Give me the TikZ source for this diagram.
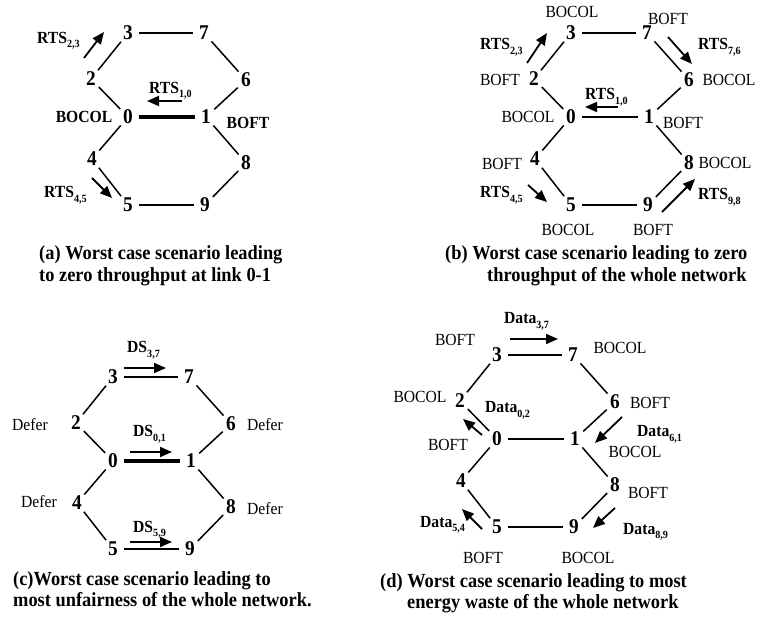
\documentclass[tikz,border=0pt]{standalone}
\usepackage{fontspec}
\setmainfont[FakeStretch=0.92]{Liberation Serif}
\usetikzlibrary{arrows.meta}
\newcommand\sbs[1]{\raisebox{-4.5pt}{\fontsize{11}{11}\selectfont #1}}
\newcommand\ringgraph[1]{%
  \node[nd] (3) at (128,33) {3};
  \node[nd] (7) at (204,33) {7};
  \node[nd] (2) at (91,79) {2};
  \node[nd] (6) at (246,80) {6};
  \node[nd] (0) at (128,117) {0};
  \node[nd] (1) at (206,117) {1};
  \node[nd] (4) at (92,159) {4};
  \node[nd] (8) at (246,163) {8};
  \node[nd] (5) at (128,205) {5};
  \node[nd] (9) at (205,205) {9};
  \draw[edge] (3) -- (7);
  \draw[edge] (7) -- (6);
  \draw[edge] (6) -- (1);
  \draw[edge] (1) -- (8);
  \draw[edge] (8) -- (9);
  \draw[edge] (9) -- (5);
  \draw[edge] (5) -- (4);
  \draw[edge] (4) -- (0);
  \draw[edge] (0) -- (2);
  \draw[edge] (2) -- (3);
  \draw[#1] (0) -- (1);
}
\begin{document}
\begin{tikzpicture}[x=1pt,y=-1pt,
  nd/.style={circle, inner sep=0pt, minimum size=22pt, font=\fontsize{21}{21}\selectfont\bfseries},
  edge/.style={line width=1.5pt},
  thickedge/.style={line width=4.5pt},
  arr/.style={line width=1.8pt, -{Triangle[length=12pt,width=10pt]}},
  bl/.style={font=\fontsize{17}{17}\selectfont\bfseries, inner sep=0pt},
  blb/.style={bl, anchor=base west},
  nl/.style={font=\fontsize{17}{17}\selectfont, inner sep=0pt},
  captxt/.style={font=\fontsize{20}{20}\selectfont\bfseries, inner sep=0pt, anchor=base west}]
\path[use as bounding box] (0,0) rectangle (758,617);

% ---------- (a) ----------
\begin{scope}[name prefix=a-]
  \ringgraph{thickedge}
\end{scope}
\node[bl] (a-bocol) at (84,117) {BOCOL};
\node[bl] (a-boft) at (248,123) {BOFT};
\node[blb] (a-t10) at (149,93.5) {RTS\sbs{1,0}};
\coordinate (a-p1) at (182,101); \coordinate (a-q1) at (147,101);
\draw[arr] (a-p1) -- (a-q1);
\node[blb] (a-t23) at (37,43.5) {RTS\sbs{2,3}};
\coordinate (a-p2) at (84,58); \coordinate (a-q2) at (104,32);
\draw[arr] (a-p2) -- (a-q2);
\node[blb] (a-t45) at (44,198) {RTS\sbs{4,5}};
\coordinate (a-p3) at (92,178); \coordinate (a-q3) at (112,198);
\draw[arr] (a-p3) -- (a-q3);
\node[captxt] (capa1) at (39,260) {(a) Worst case scenario leading};
\node[captxt] (capa2) at (39,282) {to zero throughput at link 0-1};

% ---------- (b) ----------
\begin{scope}[shift={(443,0)}, name prefix=b-]
  \ringgraph{edge}
\end{scope}
\node[nl] (b-l3) at (572,12) {BOCOL};
\node[nl] (b-l7) at (668,19) {BOFT};
\node[blb] (b-t76) at (698,50) {RTS\sbs{7,6}};
\coordinate (b-p1) at (668,37); \coordinate (b-q1) at (692,64);
\draw[arr] (b-p1) -- (b-q1);
\node[nl] (b-l6) at (729,80) {BOCOL};
\node[nl] (b-l2) at (500,80) {BOFT};
\node[blb] (b-t23) at (480,50) {RTS\sbs{2,3}};
\coordinate (b-p2) at (527,63); \coordinate (b-q2) at (547,33);
\draw[arr] (b-p2) -- (b-q2);
\node[blb] (b-t10) at (585,100) {RTS\sbs{1,0}};
\coordinate (b-p3) at (618,107); \coordinate (b-q3) at (585,107);
\draw[arr] (b-p3) -- (b-q3);
\node[nl] (b-l0) at (528,117) {BOCOL};
\node[nl] (b-l1) at (683,123) {BOFT};
\node[nl] (b-l4) at (502,164) {BOFT};
\node[blb] (b-t45) at (480,198) {RTS\sbs{4,5}};
\coordinate (b-p4) at (528,185); \coordinate (b-q4) at (547,202);
\draw[arr] (b-p4) -- (b-q4);
\node[nl] (b-l8) at (725,163) {BOCOL};
\node[blb] (b-t98) at (698,200) {RTS\sbs{9,8}};
\coordinate (b-p5) at (662,212); \coordinate (b-q5) at (695,179);
\draw[arr] (b-p5) -- (b-q5);
\node[nl] (b-l5) at (568,230) {BOCOL};
\node[nl] (b-l9) at (653,230) {BOFT};
\node[captxt] (capb1) at (445,260) {(b) Worst case scenario leading to zero};
\node[captxt] (capb2) at (487,282) {throughput of the whole network};

% ---------- (c) ----------
\begin{scope}[shift={(-15,344)}, name prefix=c-]
  \ringgraph{thickedge}
\end{scope}
\node[blb] (c-t37) at (127,353) {DS\sbs{3,7}};
\coordinate (c-p1) at (124,368); \coordinate (c-q1) at (166,368);
\draw[arr] (c-p1) -- (c-q1);
\node[nl] (c-l2) at (30,425) {Defer};
\node[nl] (c-l6) at (265,425) {Defer};
\node[blb] (c-t01) at (133,437) {DS\sbs{0,1}};
\coordinate (c-p2) at (130,452); \coordinate (c-q2) at (172,452);
\draw[arr] (c-p2) -- (c-q2);
\node[nl] (c-l4) at (39,502) {Defer};
\node[nl] (c-l8) at (265,509) {Defer};
\node[blb] (c-t59) at (133,532) {DS\sbs{5,9}};
\coordinate (c-p3) at (130,542); \coordinate (c-q3) at (172,542);
\draw[arr] (c-p3) -- (c-q3);
\node[captxt] (capc1) at (13,585) {(c)Worst case scenario leading to};
\node[captxt] (capc2) at (13,606) {most unfairness of the whole network.};

% ---------- (d) ----------
\begin{scope}[shift={(369,322)}, name prefix=d-]
  \ringgraph{edge}
\end{scope}
\node[blb] (d-t37) at (504,324) {Data\sbs{3,7}};
\coordinate (d-p1) at (510,339); \coordinate (d-q1) at (558,339);
\draw[arr] (d-p1) -- (d-q1);
\node[nl] (d-l3) at (455,340) {BOFT};
\node[nl] (d-l7) at (620,348) {BOCOL};
\node[nl] (d-l2) at (420,397) {BOCOL};
\node[blb] (d-t02) at (485,413) {Data\sbs{0,2}};
\coordinate (d-p2) at (482,435); \coordinate (d-q2) at (463,419);
\draw[arr] (d-p2) -- (d-q2);
\node[nl] (d-l0) at (448,445) {BOFT};
\node[nl] (d-l6) at (650,403) {BOFT};
\node[blb] (d-t61) at (637,437) {Data\sbs{6,1}};
\coordinate (d-p3) at (622,417); \coordinate (d-q3) at (595,443);
\draw[arr] (d-p3) -- (d-q3);
\node[nl] (d-l1) at (635,452) {BOCOL};
\node[nl] (d-l8) at (648,493) {BOFT};
\node[blb] (d-t54) at (420,527) {Data\sbs{5,4}};
\coordinate (d-p4) at (482,529); \coordinate (d-q4) at (462,509);
\draw[arr] (d-p4) -- (d-q4);
\node[blb] (d-t89) at (623,534) {Data\sbs{8,9}};
\coordinate (d-p5) at (615,508); \coordinate (d-q5) at (593,528);
\draw[arr] (d-p5) -- (d-q5);
\node[nl] (d-l5) at (483,558) {BOFT};
\node[nl] (d-l9) at (588,558) {BOCOL};
\node[captxt] (capd1) at (380,587) {(d) Worst case scenario leading to most};
\node[captxt] (capd2) at (407,608) {energy waste of the whole network};
\end{tikzpicture}
\end{document}
